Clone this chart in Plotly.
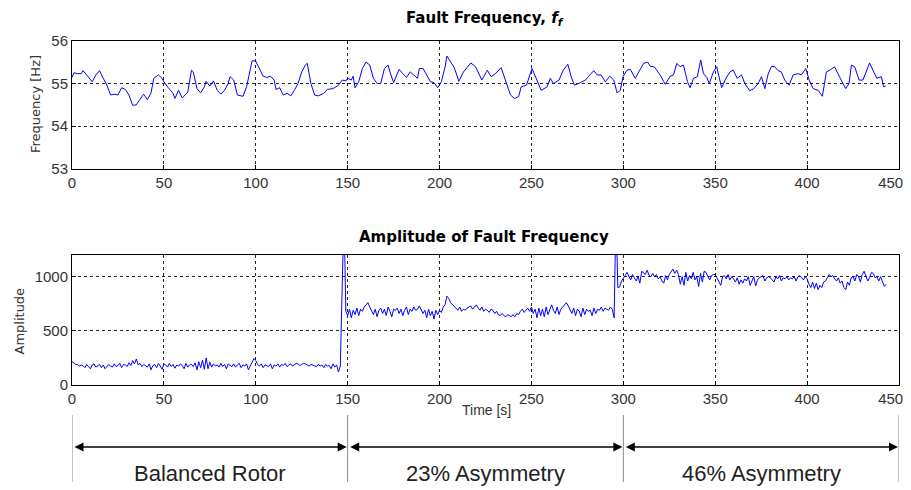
import plotly.graph_objects as go

# ---------------- data ----------------
freq_time = [0, 1, 3, 5, 6, 8, 10, 11, 13, 15, 17, 19, 21, 23, 25, 27, 29, 31, 33, 35, 37, 39, 41, 43, 44.5,
             47, 49, 50, 52, 55, 56, 58, 60, 63, 65, 66, 68, 70, 72, 73, 75, 77, 79, 81, 83, 85, 86, 88,
             90, 93, 95, 97, 98, 100, 102, 104, 106, 108, 110, 111, 113, 115, 117, 119, 121, 123, 125,
             127, 128, 130, 132, 134, 137, 139, 142, 145, 147, 149, 150, 152, 153, 154, 156, 158, 160,
             162, 164, 166, 168, 170, 172, 173, 175, 177, 178, 180, 182, 184, 186, 188, 189, 191, 193,
             195, 197, 199, 201, 203, 204, 206, 208, 210.5, 213, 217, 219.6, 223, 226, 228, 230.5,
             233.5, 236, 238.6, 240.8, 243, 244.4, 247.3, 250.3, 252.7, 255.3, 258.5, 260.3, 262, 265,
             267.3, 269.8, 271.6, 273.4, 276.7, 279.4, 281.2, 283.9, 285.7, 287.9, 290.2, 292.6, 294.8,
             296.6, 298.4, 299.8, 302, 303.8, 306.5, 308.3, 311, 313.2, 314.7, 316.8, 320, 322.8, 325.5,
             327.3, 329.1, 330.9, 332.7, 334.9, 336.3, 338.2, 340.3, 342.1, 343.6, 345.4, 346.8, 349,
             350.8, 353.5, 355.8, 358, 359.8, 362, 364.3, 366.1, 368.8, 371, 373.4, 375.2, 377, 378.8,
             380.6, 382.4, 384.2, 386, 387.8, 390.2, 392.4, 395.1, 396.9, 399.3, 401.1, 403.3, 406,
             408.3, 410.5, 412.3, 415, 417.8, 421, 422.8, 424.1, 425.9, 428.3, 430.4, 432.2, 434, 435.8,
             438, 440.4, 441.6, 442.7]
freq_hz = [55.14, 55.25, 55.23, 55.23, 55.30, 55.20, 55.08, 55.04, 55.20, 55.30, 55.12, 54.96, 54.73,
           54.75, 54.73, 54.90, 54.86, 54.73, 54.49, 54.50, 54.63, 54.75, 54.62, 54.78, 55.12, 55.20,
           55.12, 55.04, 54.92, 54.77, 54.65, 54.84, 54.66, 54.80, 55.31, 55.27, 54.88, 54.78, 54.92,
           55.05, 54.94, 55.06, 54.84, 54.75, 54.84, 55.00, 55.16, 55.08, 54.73, 54.70, 54.92, 55.39,
           55.53, 55.52, 55.35, 55.17, 55.14, 55.17, 55.08, 54.86, 54.90, 54.73, 54.77, 54.71, 54.84,
           55.00, 55.27, 55.43, 55.47, 55.00, 54.73, 54.71, 54.77, 54.86, 54.88, 54.96, 55.08, 55.06,
           55.12, 55.08, 55.17, 54.90, 55.04, 55.35, 55.50, 55.43, 55.12, 55.00, 55.00, 55.35, 55.43,
           55.27, 55.02, 55.20, 55.33, 55.23, 55.14, 55.27, 55.20, 55.12, 55.35, 55.35, 55.20, 55.04,
           55.02, 54.90, 55.04, 55.39, 55.64, 55.50, 55.37, 55.05, 55.27, 55.48, 55.39, 55.08, 55.31,
           55.16, 55.23, 55.37, 55.08, 54.73, 54.65, 54.69, 54.92, 54.96, 55.35, 55.12, 54.84, 54.92,
           55.12, 55.00, 55.08, 55.31, 55.45, 55.16, 54.96, 55.02, 55.08, 55.17, 55.30, 55.20, 55.20,
           55.04, 55.17, 55.08, 54.78, 54.84, 55.16, 55.31, 55.33, 55.12, 55.27, 55.47, 55.50, 55.40,
           55.39, 55.20, 54.98, 55.17, 55.20, 55.47, 55.39, 55.43, 55.04, 54.90, 55.12, 55.16, 55.55,
           55.23, 55.14, 55.00, 55.27, 55.39, 54.90, 55.12, 55.27, 55.31, 55.12, 55.20, 55.00, 54.83,
           54.88, 55.00, 55.16, 54.88, 55.22, 55.40, 55.39, 55.30, 55.27, 55.08, 54.96, 55.20, 55.23,
           55.20, 55.35, 55.08, 54.88, 54.84, 54.70, 55.27, 55.31, 55.39, 55.14, 54.88, 55.00, 55.43,
           55.39, 55.08, 55.08, 55.27, 55.48, 55.31, 55.12, 55.16, 54.92, 54.94]

amp_balanced = [215, 200, 190, 188, 175, 185, 178, 160, 190, 170,
                150, 185, 195, 165, 175, 190, 160, 185, 150, 170,
                190, 175, 165, 195, 170, 180, 200, 160, 190, 185,
                170, 205, 180, 225, 195, 240, 185, 200, 170, 190,
                175, 165, 195, 140, 180, 190, 160, 200, 175, 145,
                195, 185, 165, 200, 170, 190, 155, 185, 175, 195,
                180, 150, 200, 165, 185, 190, 170, 205, 140, 215,
                160, 230, 145, 250, 150, 210, 165, 195, 175, 185,
                165, 200, 170, 190, 150, 195, 180, 170, 195, 165,
                185, 200, 160, 185, 175, 195, 140, 175, 210, 245,
                225, 190, 175, 195, 160, 185, 180, 170, 195, 150,
                185, 175, 195, 165, 190, 180, 200, 170, 185, 195,
                175, 190, 200, 195, 180, 190, 200, 195, 185, 175,
                190, 185, 180, 170, 190, 175, 185, 160, 190, 175,
                180, 150, 195, 165, 185, 120, 175,
                930, 1600]
amp_23 = [680,
          640, 700, 620, 690, 650, 710, 640, 700, 680, 720,
          740, 760, 720, 690, 650, 700, 630, 690, 710, 660,
          700, 640, 720, 680, 630, 700, 690, 710, 660, 700,
          640, 690, 720, 650, 700, 680, 720, 690, 700, 730,
          700, 660, 690, 620, 700, 640, 680, 610, 690, 650,
          690, 670, 720, 740, 820, 800, 760, 740, 720, 700,
          690, 720, 680, 700, 690, 710, 720, 730, 700, 720,
          740, 710, 690, 720, 680, 700, 690, 670, 700, 690,
          660, 680, 650, 640, 660, 640, 630, 650, 640, 630,
          650, 630, 660, 650, 680, 700, 670, 690, 710, 680,
          720, 660, 700, 620, 710, 640, 700, 630, 720, 650,
          700, 740, 690, 660, 720, 650, 700, 720, 740, 760,
          730, 700, 660, 710, 640, 700, 680, 630, 710, 650,
          700, 680, 690, 640, 710, 660, 700, 690, 720, 680,
          710, 700, 690, 720, 700, 620,
          1600, 900, 905, 960]
amp_46 = [980, 1010, 1040, 1000, 970, 1020, 990, 960, 1000, 940,
          1050, 1030, 1020, 1060, 1010, 1000, 1030, 1000, 1020, 980,
          1000, 960, 940, 1010, 970, 1020, 1050, 1070, 1030, 1060,
          1020, 930, 1000, 920, 1040, 960, 1010, 980, 1040, 970,
          1000, 910, 1030, 950, 1050, 1040, 1000, 970, 1010, 1020,
          1020, 990, 960, 920, 1000, 1010, 980, 1020, 970, 1000,
          980, 950, 990, 930, 970, 940, 980, 960, 1000, 920,
          960, 1000, 915, 970, 990, 1000, 1010, 960, 990, 1000,
          990, 970, 950, 1000, 980, 1010, 960, 990, 980, 1000,
          970, 990, 980, 1000, 960, 1000, 1010, 990, 970, 1000,
          980, 930, 900, 950, 890, 940, 880, 920, 900, 950,
          960, 990, 1020, 1000, 1010, 980, 960, 990, 940, 960,
          900, 880, 950, 920, 990, 1000, 960, 1020, 1000, 950,
          1020, 1050, 1010, 960, 990, 1040, 1030, 990, 1000, 960,
          1000, 950, 910, 930]
amp_values = amp_balanced + amp_23 + amp_46
amp_time = list(range(len(amp_values)))

x_ticks = [0, 50, 100, 150, 200, 250, 300, 350, 400, 450]
x_tick_labels = ["0", "50", "100", "150", "200", "250", "300", "350", "400", "450"]
freq_ticks = [53, 54, 55, 56]
amp_ticks = [0, 500, 1000]
segment_bounds = [0, 150, 300, 450]
segment_labels = ["Balanced Rotor", "23% Asymmetry", "46% Asymmetry"]

# ---------------- figure ----------------
OFF = 8                       # page body margin in the browser
W, H = 911, 490 - OFF
L = 72 - OFF
R = W - (899 - OFF)
def py(p):  # screen pixel y -> paper y
    return 1 - (p - OFF) / H
def px(p):  # screen pixel x -> paper x
    return (p - OFF - L) / (W - L - R)

# the last label sits on the window edge: pad it so it stays inside the visible area
x_tick_text = x_tick_labels[:-1] + [x_tick_labels[-1] + "\u00a0" * 4]

BLUE = "#0000ff"
fig = go.Figure()
fig.add_trace(go.Scatter(x=freq_time, y=freq_hz, mode="lines",
                         line=dict(color=BLUE, width=1), xaxis="x", yaxis="y",
                         showlegend=False, hoverinfo="skip"))
fig.add_trace(go.Scatter(x=amp_time, y=amp_values, mode="lines",
                         line=dict(color=BLUE, width=1), xaxis="x2", yaxis="y2",
                         showlegend=False, hoverinfo="skip"))

tickfont = dict(family="Liberation Sans, Arial, sans-serif", size=15, color="#333")
common_x = dict(range=[0, 450], tickvals=x_ticks, ticktext=x_tick_text, showgrid=True,
                gridcolor="#222", griddash="3px,3px", gridwidth=1, showline=True,
                linecolor="black", linewidth=1, mirror=True, ticks="inside", ticklen=4,
                tickcolor="black", tickfont=tickfont, zeroline=False, fixedrange=True,
                ticklabeloverflow="allow")
common_y = dict(showgrid=True, gridcolor="#222", griddash="3px,3px", gridwidth=1,
                showline=True, linecolor="black", linewidth=1, mirror=True,
                ticks="inside", ticklen=4, tickcolor="black", tickfont=tickfont,
                zeroline=False, fixedrange=True, ticklabeloverflow="allow")

fig.update_layout(
    width=W, height=H,
    margin=dict(l=L, r=R, t=0, b=0, autoexpand=False),
    paper_bgcolor="white", plot_bgcolor="white",
    xaxis=dict(common_x, domain=[0, 1], anchor="y"),
    yaxis=dict(common_y, domain=[py(169), py(40.7)], range=[53, 56], tickvals=freq_ticks, anchor="x"),
    xaxis2=dict(common_x, domain=[0, 1], anchor="y2"),
    yaxis2=dict(common_y, domain=[py(385), py(255)], range=[0, 1200], tickvals=amp_ticks, anchor="x2"),
)

titlefont = dict(family="DejaVu Sans, sans-serif", size=15, color="black")
labelfont = dict(family="DejaVu Sans, sans-serif", size=13, color="#333")
ann = [
    dict(text="<b>Fault Frequency, <i>f</i><sub><i>f</i></sub></b>", x=px(485), y=py(18),
         xref="paper", yref="paper", showarrow=False, font=titlefont,
         xanchor="center", yanchor="middle"),
    dict(text="<b>Amplitude of Fault Frequency</b>", x=px(484), y=py(237),
         xref="paper", yref="paper", showarrow=False, font=titlefont,
         xanchor="center", yanchor="middle"),
    dict(text="Frequency [Hz]", x=px(36), y=py(104), xref="paper", yref="paper",
         showarrow=False, textangle=-90, font=labelfont, xanchor="center", yanchor="middle"),
    dict(text="Amplitude", x=px(18.5), y=py(321), xref="paper", yref="paper",
         showarrow=False, textangle=-90, font=labelfont, xanchor="center", yanchor="middle"),
    dict(text="Time [s]", x=px(486), y=py(410), xref="paper", yref="paper", showarrow=False,
         xanchor="center", yanchor="middle",
         font=dict(family="Liberation Sans Narrow, Liberation Sans, Arial", size=14, color="#333")),
]
shapes = []
for b in segment_bounds:
    shapes.append(dict(type="line", xref="x2", yref="paper", x0=b, x1=b,
                       y0=py(482), y1=py(415), line=dict(color="#888", width=1)))
for i, lab in enumerate(segment_labels):
    a, b = segment_bounds[i], segment_bounds[i + 1]
    ann.append(dict(x=b, y=py(447), xref="x2", yref="paper", ax=a, ay=0,
                    axref="x2", ayref="pixel", text="", showarrow=True,
                    arrowside="end+start", arrowhead=2, arrowsize=1.2, arrowwidth=1.5,
                    arrowcolor="black", standoff=1, startstandoff=1))
    ann.append(dict(x=(a + b) / 2, y=py(473), xref="x2", yref="paper", text=lab,
                    showarrow=False, xanchor="center", yanchor="middle",
                    font=dict(family="Liberation Sans, Arial, sans-serif", size=22, color="#222")))
fig.update_layout(annotations=ann, shapes=shapes)

fig.write_html("out.html")
